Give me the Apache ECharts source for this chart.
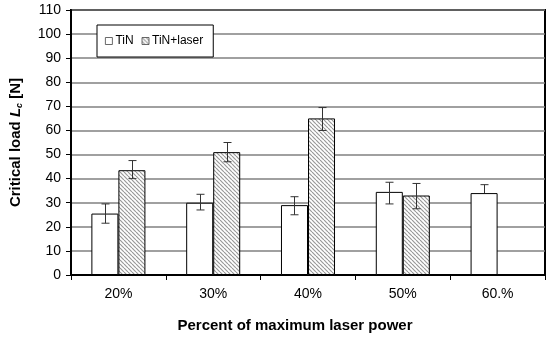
<!DOCTYPE html>
<html><head><meta charset="utf-8">
<script src="https://cdn.jsdelivr.net/npm/echarts@6/dist/echarts.min.js"></script>
<style>html,body{margin:0;padding:0;background:#fff}#c{width:550px;height:338px}</style>
</head><body><div id="c"></div>
<script>
var categories = ['20%', '30%', '40%', '50%', '60.%'];
var tinValues = [25.5, 30, 29, 34.5, 34];
var tinErrLow = [21.5, 27, 25, 29.5, 34];
var tinErrHigh = [29.5, 33.5, 32.5, 38.5, 37.5];
var laserValues = [43.5, 51, 65, 33, null];
var laserErrLow = [40, 47, 60, 27.5, null];
var laserErrHigh = [47.5, 55, 69.5, 38, null];

var FONT = '"Liberation Sans", Arial, sans-serif';
var BARW = 0.285;

function hatch() {
  var s = 4, c = document.createElement('canvas');
  c.width = s; c.height = s;
  var g = c.getContext('2d');
  g.fillStyle = '#fff'; g.fillRect(0, 0, s, s);
  g.strokeStyle = '#999'; g.lineWidth = 1.2;
  [-s, 0, s].forEach(function (k) {
    g.beginPath(); g.moveTo(k, 0); g.lineTo(k + s, s); g.stroke();
  });
  return c;
}
var pattern = { image: hatch(), repeat: 'repeat' };

function errData(lo, hi) {
  var out = [];
  for (var i = 0; i < categories.length; i++) {
    if (lo[i] == null) continue;
    out.push([i, lo[i], hi[i]]);
  }
  return out;
}
function errSeries(lo, hi, vals, side) {
  return {
    type: 'custom', silent: true, z: 5,
    data: errData(lo, hi),
    encode: { x: 0, y: [1, 2] },
    renderItem: function (params, api) {
      var bw = api.size([1, 0])[0];
      var off = side * bw * BARW / 2;
      var idx = api.value(0);
      var p1 = api.coord([idx, api.value(1)]);
      var p2 = api.coord([idx, api.value(2)]);
      var x = Math.round(p1[0] + off) + 0.5;
      var cap = 4;
      var st = { stroke: '#333', lineWidth: 1 };
      var ch = [{ type: 'line', shape: { x1: x, y1: p1[1], x2: x, y2: p2[1] }, style: st },
                { type: 'line', shape: { x1: x - cap, y1: p2[1], x2: x + cap, y2: p2[1] }, style: st }];
      if (api.value(1) < vals[idx]) {
        ch.push({ type: 'line', shape: { x1: x - cap, y1: p1[1], x2: x + cap, y2: p1[1] }, style: st });
      }
      return { type: 'group', children: ch };
    }
  };
}

var chart = echarts.init(document.getElementById('c'));
chart.setOption({
  animation: false,
  backgroundColor: '#fff',
  grid: { left: 71, right: 5, top: 10, bottom: 61, show: true, borderColor: '#000', borderWidth: 2, backgroundColor: 'transparent' },
  legend: {
    data: ['TiN', 'TiN+laser'],
    left: 97, top: 25,
    padding: [10, 10, 10, 8],
    itemGap: 8, itemWidth: 7, itemHeight: 7,
    icon: 'rect',
    itemStyle: { borderWidth: 0.8, borderColor: '#444' },
    backgroundColor: '#fff', borderColor: '#000', borderWidth: 1,
    textStyle: { fontFamily: FONT, fontSize: 12, color: '#000', padding: [0, 0, 0, -2] }
  },
  xAxis: {
    type: 'category', data: categories,
    axisLine: { lineStyle: { color: '#000', width: 2 } },
    axisTick: { show: true, length: 5, lineStyle: { color: '#000' } },
    axisLabel: { fontFamily: FONT, fontSize: 14, color: '#000', margin: 12 },
    name: 'Percent of maximum laser power', nameLocation: 'middle', nameGap: 43,
    nameTextStyle: { fontFamily: FONT, fontSize: 15, fontWeight: 'bold', color: '#000', padding: [0, 26, 0, 0] }
  },
  yAxis: {
    type: 'value', min: 0, max: 110, interval: 10,
    axisLine: { show: true, lineStyle: { color: '#000', width: 2 } },
    axisTick: { show: true, length: 5, lineStyle: { color: '#000' } },
    axisLabel: { fontFamily: FONT, fontSize: 14, color: '#000', margin: 10 },
    splitLine: { lineStyle: { color: '#808080', width: 1.5 } },
    name: '{b|Critical load }{i|L}{s|c}{b| [N]}', nameLocation: 'middle', nameGap: 47,
    nameTextStyle: {
      color: '#000',
      rich: {
        b: { fontFamily: FONT, fontSize: 15, fontWeight: 'bold', color: '#000' },
        i: { fontFamily: FONT, fontSize: 15, fontWeight: 'bold', fontStyle: 'italic', color: '#000' },
        s: { fontFamily: FONT, fontSize: 9, fontWeight: 'bold', fontStyle: 'italic', color: '#000', verticalAlign: 'bottom', padding: [7, 0, 0, 0] }
      }
    }
  },
  series: [
    { name: 'TiN', type: 'bar', data: tinValues, barWidth: (BARW * 100) + '%', barGap: '0%',
      itemStyle: { color: '#fff', borderColor: '#000', borderWidth: 1 } },
    { name: 'TiN+laser', type: 'bar', data: laserValues, barWidth: (BARW * 100) + '%', barGap: '0%',
      itemStyle: { color: pattern, borderColor: '#000', borderWidth: 1 } },
    errSeries(tinErrLow, tinErrHigh, tinValues, -1),
    errSeries(laserErrLow, laserErrHigh, laserValues, 1)
  ]
});
</script></body></html>
